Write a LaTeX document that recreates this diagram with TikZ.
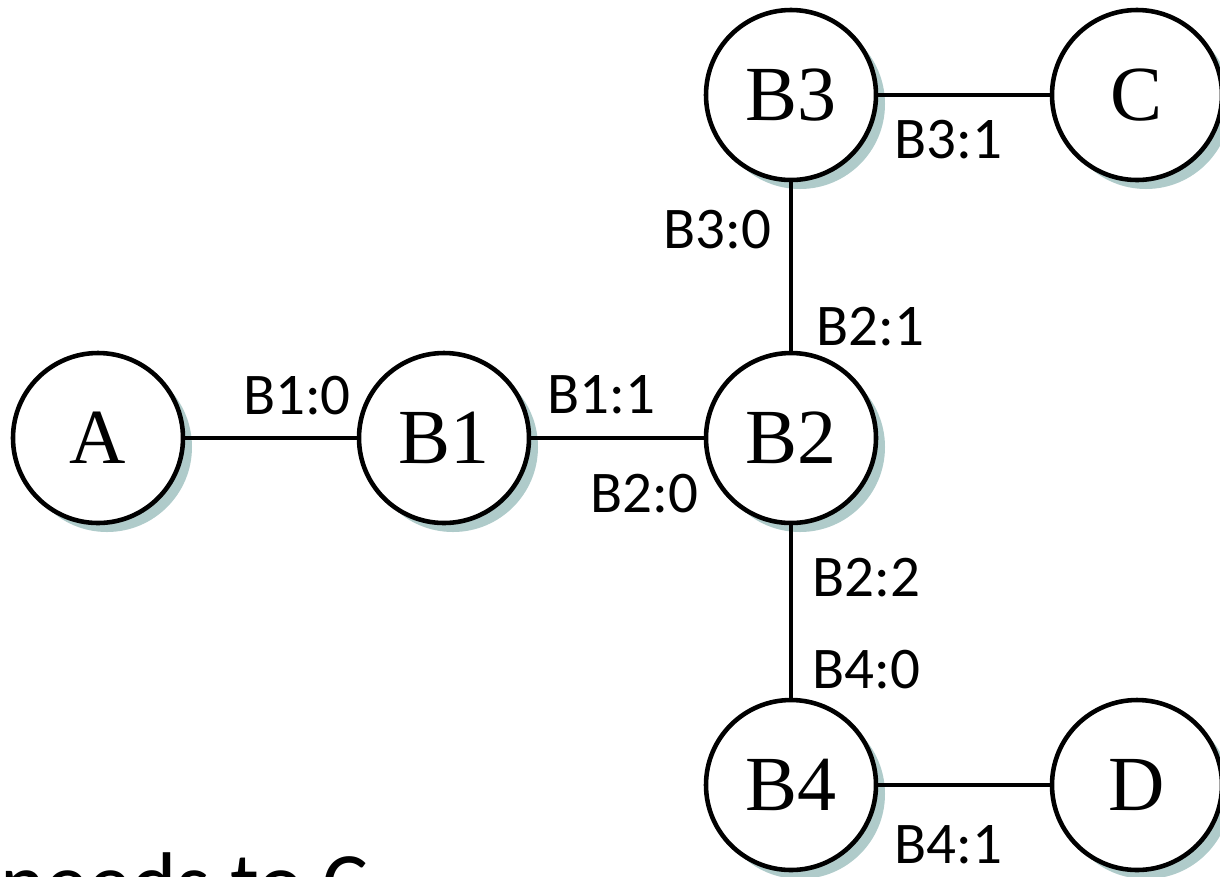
\documentclass[tikz,border=0pt]{standalone}
\usepackage{fontspec}
\setmainfont{Liberation Serif}
\newfontfamily\portfont{Carlito}
\usetikzlibrary{shadows}
\definecolor{shadowgrey}{HTML}{AFCBCA}

\begin{document}
\begin{tikzpicture}[x=0.1mm,y=-0.1mm,
		bridge/.style={circle,draw,line width=1.3pt,fill=white,minimum size=17mm,inner sep=0pt,
			font=\fontsize{22.2}{26}\selectfont,
			drop shadow={shadow xshift=0.9mm,shadow yshift=-0.9mm,fill=shadowgrey,opacity=1}},
		port/.style={inner sep=0pt,font=\portfont\fontsize{16.8}{20}\selectfont},
		link/.style={line width=1.1pt}]
		\useasboundingbox (0,0) rectangle (1220,876);
		% hosts and bridges
		\node[bridge] (A) at (98,438) {A};
		\node[bridge] (B1) at (444,438) {B1};
		\node[bridge] (B2) at (791,438) {B2};
		\node[bridge] (B3) at (791,95) {B3};
		\node[bridge] (C) at (1137,95) {C};
		\node[bridge] (B4) at (791,785) {B4};
		\node[bridge] (D) at (1137,785) {D};
		% links
		\draw[link] (A)--(B1);
		\draw[link] (B1)--(B2);
		\draw[link] (B2)--(B3);
		\draw[link] (B3)--(C);
		\draw[link] (B2)--(B4);
		\draw[link] (B4)--(D);
		% port numbers
		\node[port] (p10) at (297,396) {B1:0};
		\node[port] (p11) at (601,395) {B1:1};
		\node[port] (p20) at (644,494) {B2:0};
		\node[port] (p21) at (870,327) {B2:1};
		\node[port] (p22) at (866,578) {B2:2};
		\node[port] (p30) at (717,230) {B3:0};
		\node[port] (p31) at (948,140) {B3:1};
		\node[port] (p40) at (866,670) {B4:0};
		\node[port] (p41) at (948,845) {B4:1};
		% caption runs off the bottom edge
		\node[anchor=base west,inner sep=0pt,font=\portfont\fontsize{24.5}{29}\selectfont] (note) at (0,912) {needs to C};
	\end{tikzpicture}
\end{document}
